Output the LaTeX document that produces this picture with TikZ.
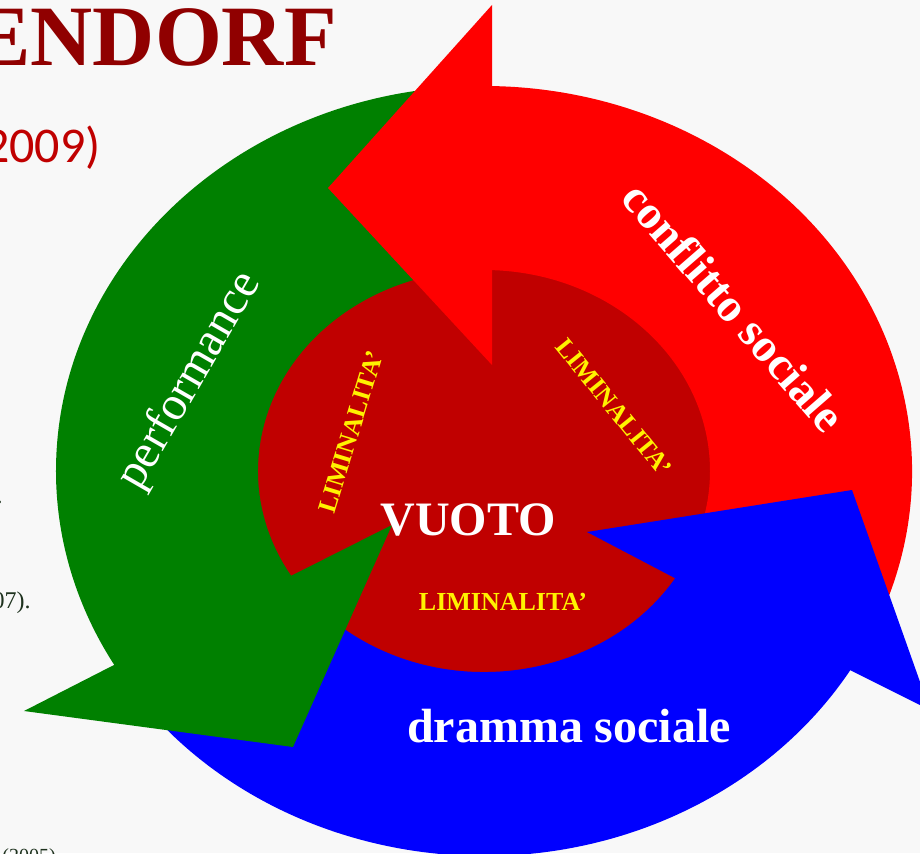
\documentclass[tikz,border=0pt]{standalone}
\usepackage{fontspec}
\setmainfont{Liberation Serif}
\newfontfamily\calibri{Carlito}
\usepackage{tikz}

\definecolor{pagebg}{RGB}{248,248,248}
\definecolor{perfgreen}{RGB}{0,128,0}
\definecolor{conflred}{RGB}{255,0,0}
\definecolor{drammablue}{RGB}{0,0,255}
\definecolor{liminal}{RGB}{192,0,0}
\definecolor{titlered}{RGB}{144,0,0}
\definecolor{reftext}{RGB}{30,50,30}

\begin{document}
\begin{tikzpicture}
    [
    x=0.5pt, y=0.5pt,
    bigword/.style={text=white,font=\fontsize{24}{24}\selectfont\bfseries,inner sep=0pt},
    limword/.style={text=yellow,font=\fontsize{13}{13}\selectfont\bfseries,inner sep=0pt},
    refword/.style={text=reftext,font=\fontsize{12}{12}\selectfont,inner sep=0pt},
    ]
    \clip (-484,-382) rectangle (436,471);
    \fill [pagebg] (-484,-382) rectangle (436,471);

    % heading fragments
    \node (title) at (-147,406) [anchor=base east,inner sep=0pt,text=titlered,font=\fontsize{43}{43}\selectfont\bfseries] {ENDORF};
    \node (year) at (-383,309) [anchor=base east,inner sep=0pt,text=liminal,font=\fontsize{25}{25}\selectfont\calibri] {2009)};
    \node (dot) at (-481,-32) [anchor=base east,refword] {.};
    \node (ref07) at (-453,-137) [anchor=base east,refword] {07).};
    \node (ref05) at (-482,-391) [anchor=base west,refword,font=\fontsize{10}{10}\selectfont] {(2005)};

    % centre
    \fill [liminal] (0,0) ellipse [x radius=229, y radius=204];

    % bands
    \fill [conflred] (-30:428 and 385) arc [start angle=-30, end angle=90, x radius=428, y radius=385]
        -- (90:226 and 201) arc [start angle=90, end angle=-30, x radius=226, y radius=201] -- cycle;
    \fill [perfgreen] (90:428 and 385) arc [start angle=90, end angle=211.8, x radius=428, y radius=385]
        -- (211.8:226 and 201) arc [start angle=211.8, end angle=90, x radius=226, y radius=201] -- cycle;
    \fill [drammablue] (211.8:428 and 385) arc [start angle=211.8, end angle=330, x radius=428, y radius=385]
        -- (330:226 and 201) arc [start angle=330, end angle=211.8, x radius=226, y radius=201] -- cycle;

    % heads
    \fill [conflred] (8,106) -- (-156,283) -- (8,466) -- cycle;
    \fill [perfgreen] (-372,-195) -- (-92,-54) -- (-191,-276) -- (-460,-240) -- cycle;
    \fill [drammablue] (366,-199) -- (103,-61) -- (368,-19) -- (446,-239) -- cycle;

    % labels
    \node (perf) at (-294,90) [rotate=60,text=white,inner sep=0pt,font=\fontsize{24}{24}\selectfont] {performance};
    \node (confl) at (250,164) [rotate=-49,bigword,font=\fontsize{23.5}{23.5}\selectfont\bfseries] {conflitto sociale};
    \node (dramma) at (85,-271) [anchor=base,bigword] {dramma sociale};
    \node (vuoto) at (-16,-64) [anchor=base,bigword] {VUOTO};
    \node (limB) at (19,-139) [anchor=base,limword] {LIMINALITA’};
    \node (limL) at (-133,39) [rotate=73,limword] {LIMINALITA’};
    \node (limR) at (130,64) [rotate=-51,limword] {LIMINALITA’};
\end{tikzpicture}
\end{document}
